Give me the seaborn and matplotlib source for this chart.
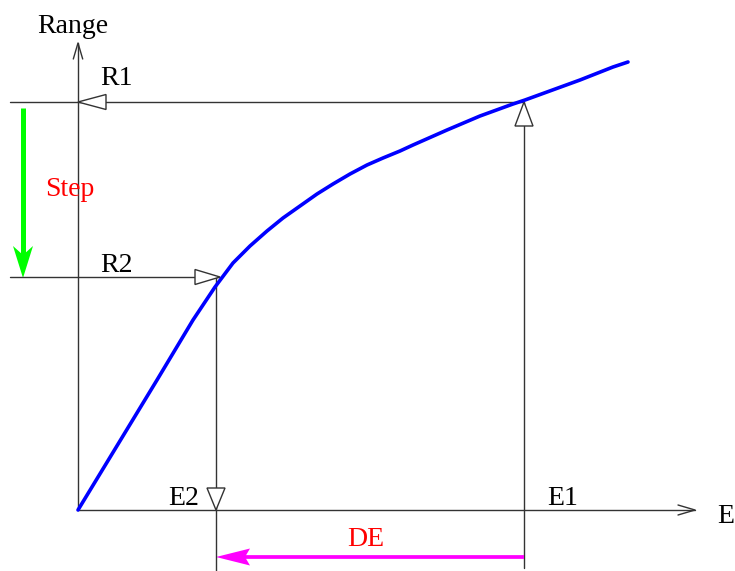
import matplotlib
matplotlib.use("Agg")
import matplotlib.pyplot as plt
import seaborn as sns
import pandas as pd

# ---- data (schematic range-energy curve) ----
energy = [0, 79, 115, 137, 155, 172, 189, 205, 222, 239, 255, 272, 289, 305,
          322, 335, 369, 402, 435, 447, 469, 502, 535, 550]
range_ = [0, 130, 190, 223, 247, 264, 279, 292, 304, 316, 326, 336, 345, 352,
          359, 365, 380, 394, 406, 410, 418, 430, 443, 448]
E1, R1 = 446, 408
E2, R2 = 138, 233
labels = {"yaxis": "Range", "xaxis": "E", "r1": "R1", "r2": "R2",
          "e1": "E1", "e2": "E2", "step": "Step", "de": "DE"}

sns.set_theme(style="white")
plt.rcParams["font.family"] = ["Liberation Serif", "DejaVu Serif"]

fig = plt.figure(figsize=(7.35, 5.71), dpi=100)
ax = fig.add_axes([0, 0, 1, 1])
ax.set_xlim(-78, 657)
ax.set_ylim(-61, 510)
ax.axis("off")

LC = "#333333"
LW = 1.0

df = pd.DataFrame({"E": energy, "R": range_})
sns.lineplot(data=df, x="E", y="R", sort=False, color="#0000ff", lw=2.6,
             ax=ax, zorder=5, solid_joinstyle="round")

# axes with open arrowheads
yt, xt = 467, 617
ax.plot([0, 0], [0, yt], color=LC, lw=LW)
ax.plot([-4.7, 0, 4.7], [yt - 16, yt, yt - 16], color=LC, lw=LW)
ax.plot([0, xt], [0, 0], color=LC, lw=LW)
ax.plot([xt - 17, xt, xt - 17], [5, 0, -5], color=LC, lw=LW)

# guide lines
ax.plot([-68, E1 - 2], [R1, R1], color=LC, lw=LW, zorder=2)
ax.plot([E1, E1], [R1, -58], color=LC, lw=LW, zorder=2)
ax.plot([-68, E2 + 3], [R2, R2], color=LC, lw=LW, zorder=2)
ax.plot([E2, E2], [R2, -61], color=LC, lw=LW, zorder=2)

def tri(xs, ys):
    ax.fill(xs, ys, facecolor="white", edgecolor=LC, lw=LW, zorder=3)

# R1: pointing left at y-axis
tri([0, 28, 28], [R1, R1 + 7.5, R1 - 7.5])
# R2: pointing right towards curve
tri([E2 + 4, E2 - 21, E2 - 21], [R2, R2 + 7.5, R2 - 7.5])
# E1: pointing up towards curve
tri([E1, E1 - 9, E1 + 9], [R1, R1 - 24, R1 - 24])
# E2: pointing down to the E axis
tri([E2, E2 - 9, E2 + 9], [0, 22, 22])

# green "Step" arrow
gx = -55
ax.plot([gx, gx], [R1 - 6, R2 + 22], color="#00ff00", lw=3.6, solid_capstyle="butt")
ax.fill([gx, gx - 10, gx, gx + 10], [R2 - 1, R2 + 31, R2 + 22, R2 + 31],
        color="#00ff00", lw=0)

# magenta "DE" arrow
my = -47
ax.plot([E2 + 20, E1], [my, my], color="#ff00ff", lw=2.7, solid_capstyle="butt")
ax.fill([E2, E2 + 34, E2 + 29, E2 + 34], [my, my + 8.5, my, my - 8.5],
        color="#ff00ff", lw=0)

fs = 20
K = "black"
ax.text(-41, 477, labels["yaxis"], fontsize=fs, ha="left", va="baseline", color=K)
ax.text(639, -13, labels["xaxis"], fontsize=fs, ha="left", va="baseline", color=K)
ax.text(22, 425, labels["r1"], fontsize=fs, ha="left", va="baseline", color=K)
ax.text(22, 238, labels["r2"], fontsize=fs, ha="left", va="baseline", color=K)
ax.text(469, 5, labels["e1"], fontsize=fs, ha="left", va="baseline", color=K)
ax.text(90, 5, labels["e2"], fontsize=fs, ha="left", va="baseline", color=K)
ax.text(-33, 314, labels["step"], fontsize=fs, ha="left", va="baseline", color="#ff0000")
ax.text(269, -36, labels["de"], fontsize=fs, ha="left", va="baseline", color="#ff0000")

fig.savefig("out.png", dpi=100)
